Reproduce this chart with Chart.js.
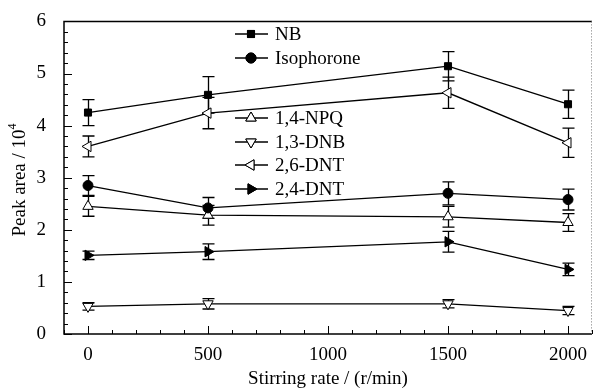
<!DOCTYPE html>
<html>
<head>
<meta charset="utf-8">
<script src="https://cdn.jsdelivr.net/npm/chart.js@4"></script>
<style>
  html, body { margin: 0; padding: 0; background: #fff; }
  #wrap { width: 599px; height: 390px; }
</style>
</head>
<body>
<div id="wrap"><canvas id="peakChart" width="599" height="390"></canvas></div>
<script>
// Data
const stirRates = [0, 500, 1500, 2000];
const seriesNames = ['NB', 'Isophorone', '1,4-NPQ', '1,3-DNB', '2,6-DNT', '2,4-DNT'];
const nbVals = [4.25, 4.59, 5.14, 4.41];
const nbErr = [0.25, 0.35, 0.28, 0.27];
const isoVals = [2.85, 2.42, 2.70, 2.58];
const isoErr = [0.19, 0.2, 0.22, 0.2];
const npqVals = [2.45, 2.28, 2.25, 2.14];
const npqErr = [0.19, 0.19, 0.2, 0.17];
const dnbVals = [0.53, 0.58, 0.58, 0.45];
const dnbErr = [0.07, 0.1, 0.08, 0.08];
const dnt26Vals = [3.60, 4.24, 4.63, 3.67];
const dnt26Err = [0.2, 0.3, 0.3, 0.28];
const dnt24Vals = [1.51, 1.58, 1.77, 1.24];
const dnt24Err = [0.08, 0.15, 0.2, 0.12];
const xTicks = [0, 500, 1000, 1500, 2000];
const yTicks = [0, 1, 2, 3, 4, 5, 6];

const serif = '"Liberation Serif", "DejaVu Serif", serif';
const ink = '#000';

function pts(vals) {
    return stirRates.map((x, i) => ({ x: x, y: vals[i] }));
}

const marker = {
    'NB': { style: 'rect', rot: 0, fill: ink, r: 5 },
    'Isophorone': { style: 'circle', rot: 0, fill: ink, r: 5 },
    '1,4-NPQ': { style: 'triangle', rot: 0, fill: '#fff', r: 6 },
    '1,3-DNB': { style: 'triangle', rot: 180, fill: '#fff', r: 6 },
    '2,6-DNT': { style: 'triangle', rot: -90, fill: '#fff', r: 6 },
    '2,4-DNT': { style: 'triangle', rot: 90, fill: ink, r: 6 }
};

const allVals = [nbVals, isoVals, npqVals, dnbVals, dnt26Vals, dnt24Vals];
const allErr = [nbErr, isoErr, npqErr, dnbErr, dnt26Err, dnt24Err];

const datasets = seriesNames.map((name, k) => ({
    label: name,
    data: pts(allVals[k]),
    errors: allErr[k],
    borderColor: ink,
    borderWidth: 1.3,
    backgroundColor: marker[name].fill,
    pointStyle: marker[name].style,
    pointRotation: marker[name].rot,
    pointRadius: marker[name].r,
    pointBorderWidth: 1,
    pointBorderColor: ink,
    pointBackgroundColor: marker[name].fill,
    tension: 0
}));

// error bars under the markers
const errorBars = {
    id: 'errorBars',
    beforeDatasetsDraw(chart) {
        const ctx = chart.ctx;
        const xs = chart.scales.x, ys = chart.scales.y;
        ctx.save();
        ctx.strokeStyle = ink;
        ctx.lineWidth = 1.3;
        chart.data.datasets.forEach(ds => {
            ds.data.forEach((p, i) => {
                const e = ds.errors[i];
                const px = Math.round(xs.getPixelForValue(p.x)) + 0.5;
                const top = ys.getPixelForValue(p.y + e);
                const bot = ys.getPixelForValue(p.y - e);
                ctx.beginPath();
                ctx.moveTo(px, top); ctx.lineTo(px, bot);
                ctx.moveTo(px - 6, top); ctx.lineTo(px + 6, top);
                ctx.moveTo(px - 6, bot); ctx.lineTo(px + 6, bot);
                ctx.stroke();
            });
        });
        ctx.restore();
    }
};

// frame, inward ticks and the two-part legend
const frame = {
    id: 'frame',
    afterDraw(chart) {
        const ctx = chart.ctx;
        const a = chart.chartArea;
        const xs = chart.scales.x, ys = chart.scales.y;
        ctx.save();
        ctx.strokeStyle = ink;
        ctx.lineWidth = 1.5;
        ctx.beginPath();
        ctx.moveTo(a.right, a.top); ctx.lineTo(a.left, a.top);
        ctx.lineTo(a.left, a.bottom); ctx.lineTo(a.right, a.bottom);
        ctx.stroke();
        ctx.lineWidth = 1;
        ctx.strokeStyle = '#777';
        ctx.setLineDash([1, 2]);
        ctx.beginPath();
        ctx.moveTo(a.right - 0.5, a.top); ctx.lineTo(a.right - 0.5, a.bottom);
        ctx.stroke();
        ctx.setLineDash([]);
        ctx.strokeStyle = ink;
        ctx.lineWidth = 1;
        ctx.beginPath();
        for (let v = -100; v <= 2100; v += 100) {
            const px = Math.round(xs.getPixelForValue(v)) + 0.5;
            const len = v % 500 === 0 ? 8 : 4;
            ctx.moveTo(px, a.bottom); ctx.lineTo(px, a.bottom - len);
        }
        for (let j = 0; j <= 30; j++) {
            const v = j * 0.2;
            const py = Math.round(ys.getPixelForValue(v)) + 0.5;
            const len = j % 5 === 0 ? 8 : 4;
            ctx.moveTo(a.left, py); ctx.lineTo(a.left + len, py);
        }
        ctx.stroke();

        // legend
        const rows = [34, 58, 118, 142, 165, 189];
        ctx.font = '19px ' + serif;
        ctx.textBaseline = 'middle';
        ctx.fillStyle = ink;
        chart.data.datasets.forEach((ds, k) => {
            const y = rows[k];
            ctx.lineWidth = 1.3;
            ctx.strokeStyle = ink;
            ctx.beginPath();
            ctx.moveTo(235, y); ctx.lineTo(268, y);
            ctx.stroke();
            ctx.lineWidth = 1;
            Chart.helpers.drawPoint(ctx, {
                pointStyle: ds.pointStyle, rotation: ds.pointRotation,
                radius: ds.pointRadius, borderWidth: 1
            }, 251, y);
            ctx.fillStyle = ds.pointBackgroundColor;
            ctx.fill();
            ctx.stroke();
            ctx.fillStyle = ink;
            ctx.fillText(ds.label, 275, y + 1);
        });

        // y title with superscript
        ctx.save();
        ctx.translate(20, 178);
        ctx.rotate(-Math.PI / 2);
        ctx.textAlign = 'center';
        ctx.font = '19px ' + serif;
        const main = 'Peak area / 10';
        const w = ctx.measureText(main).width;
        ctx.fillText(main, -5, 0);
        ctx.textAlign = 'left';
        ctx.font = '12px ' + serif;
        ctx.fillText('4', -5 + w / 2, -7);
        ctx.restore();
        ctx.restore();
    }
};

new Chart(document.getElementById('peakChart').getContext('2d'), {
    type: 'line',
    data: { datasets: datasets },
    options: {
        responsive: false,
        animation: false,
        layout: { padding: { top: 14, right: 1, left: 0, bottom: 0 } },
        plugins: { legend: { display: false }, tooltip: { enabled: false } },
        scales: {
            x: {
                type: 'linear', min: -100, max: 2100,
                grid: { display: false },
                border: { display: false },
                afterBuildTicks: s => { s.ticks = xTicks.map(v => ({ value: v })); },
                afterFit: s => { s.height = 56; },
                ticks: {
                    color: ink, font: { family: serif, size: 19 }, padding: 2, maxRotation: 0,
                    callback: v => String(v)
                },
                title: {
                    display: true, text: 'Stirring rate / (r/min)', color: ink,
                    font: { family: serif, size: 19 }, padding: { top: 0, bottom: 0 }
                }
            },
            y: {
                min: 0, max: 6,
                grid: { display: false },
                border: { display: false },
                afterBuildTicks: s => { s.ticks = yTicks.map(v => ({ value: v })); },
                afterFit: s => { s.width = 64; },
                ticks: {
                    color: ink, font: { family: serif, size: 19 }, padding: 10,
                    callback: v => String(v)
                }
            }
        }
    },
    plugins: [errorBars, frame]
});
</script>
</body>
</html>
